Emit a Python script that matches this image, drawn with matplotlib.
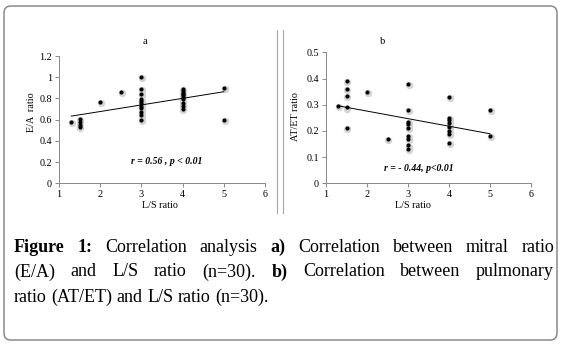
import numpy as np
import matplotlib
matplotlib.use("Agg")
import matplotlib.pyplot as plt
from matplotlib.patches import FancyBboxPatch
from matplotlib.lines import Line2D
from matplotlib.transforms import offset_copy, IdentityTransform

plt.rcParams['font.family'] = ['Liberation Serif', 'DejaVu Serif']

# panel a: L/S ratio vs E/A ratio
ls_a = [1.3, 1.5, 1.5, 1.5, 1.5, 2, 2.5,
        3, 3, 3, 3, 3, 3, 3, 3, 3, 3, 3,
        4, 4, 4, 4, 4, 4, 4, 4, 4, 4,
        5, 5]
ea = [0.58, 0.61, 0.58, 0.55, 0.53, 0.77, 0.86,
      1.0, 0.89, 0.84, 0.79, 0.78, 0.76, 0.73, 0.71, 0.67, 0.64, 0.60,
      0.89, 0.87, 0.85, 0.84, 0.83, 0.81, 0.79, 0.76, 0.73, 0.70,
      0.90, 0.60]

# panel b: L/S ratio vs AT/ET ratio
ls_b = [1.3, 1.5, 1.5, 1.5, 1.5, 1.5, 2, 2.5,
        3, 3, 3, 3, 3, 3, 3, 3, 3,
        4, 4, 4, 4, 4, 4, 4, 4,
        5, 5]
atet = [0.295, 0.39, 0.36, 0.335, 0.29, 0.21, 0.35, 0.17,
        0.38, 0.28, 0.235, 0.225, 0.21, 0.18, 0.17, 0.145, 0.13,
        0.33, 0.25, 0.24, 0.23, 0.215, 0.20, 0.19, 0.155,
        0.28, 0.18]

caption = [
    [("Figure", "bold"), ("1:", "bold"), ("Correlation", "normal"), ("analysis", "normal"),
     ("a)", "bold"), ("Correlation", "normal"), ("between", "normal"), ("mitral", "normal"),
     ("ratio", "normal")],
    [("(E/A)", "normal"), ("and", "normal"), ("L/S", "normal"), ("ratio", "normal"),
     ("(n=30).", "normal"), ("b)", "bold"), ("Correlation", "normal"), ("between", "normal"),
     ("pulmonary", "normal")],
    [("ratio", "normal"), ("(AT/ET)", "normal"), ("and", "normal"), ("L/S", "normal"),
     ("ratio", "normal"), ("(n=30).", "normal")],
]

W, H = 565, 345
fig = plt.figure(figsize=(W / 100, H / 100), dpi=100)


def px(x, y):
    # pixel (from top-left) -> figure fraction
    return x / W, 1 - y / H


def scatter_panel(rect, xs, ys, ymax, ystep):
    ax = fig.add_axes(rect)
    xs = np.array(xs)
    ys = np.array(ys)
    shadow = offset_copy(ax.transData, fig=fig, x=0.8, y=-1.2, units='dots')
    ax.scatter(xs, ys, s=28, color='#d4d4d4', lw=0, transform=shadow, zorder=2)
    ax.scatter(xs, ys, s=9, color='black', lw=0, zorder=3)
    k, b = np.polyfit(xs, ys, 1)
    xx = np.array([xs.min(), xs.max()])
    ax.plot(xx, k * xx + b, color='black', lw=0.7, zorder=4)
    ax.set_xlim(1, 6)
    ax.set_ylim(0, ymax)
    ax.set_xticks(range(1, 7))
    yt = np.arange(0, ymax + ystep / 2, ystep)
    ax.set_yticks(yt)
    ax.set_yticklabels(['%g' % round(v, 2) for v in yt])
    for s in ['top', 'right']:
        ax.spines[s].set_visible(False)
    for s in ['left', 'bottom']:
        ax.spines[s].set_color('#888888')
        ax.spines[s].set_linewidth(0.7)
    ax.tick_params(direction='out', length=3, width=0.7, color='#888888',
                   labelsize=7.3, pad=2)
    ax.patch.set_alpha(0)
    return ax


ax1 = scatter_panel([59 / W, 1 - 183.3 / H, 206 / W, 127.3 / H], ls_a, ea, 1.2, 0.2)
ax2 = scatter_panel([326 / W, 1 - 183.3 / H, 205 / W, 131 / H], ls_b, atet, 0.5, 0.1)

fig.text(*px(145, 42), "a", ha='center', va='center', fontsize=7.5)
fig.text(*px(383, 42), "b", ha='center', va='center', fontsize=7.5)
fig.text(*px(32, 112), "E/A  ratio", ha='center', va='center', rotation=90, fontsize=7.3)
fig.text(*px(295, 117), "AT/ET ratio", ha='center', va='center', rotation=90, fontsize=7.3)
fig.text(*px(160, 205), "L/S ratio", ha='center', va='center', fontsize=7.3)
fig.text(*px(413, 205), "L/S ratio", ha='center', va='center', fontsize=7.3)
fig.text(*px(167, 162), "r = 0.56 , p < 0.01", ha='center', va='center', fontsize=7,
         fontweight='bold', style='italic')
fig.text(*px(419, 168), "r = - 0.44, p<0.01", ha='center', va='center', fontsize=7,
         fontweight='bold', style='italic')

# frame and divider
fig.patches.append(FancyBboxPatch((4, H - 340), 553, 334,
                                  boxstyle="round,pad=0,rounding_size=7",
                                  transform=IdentityTransform(), fill=False,
                                  ec='#8a8a8a', lw=1.1, figure=fig))
for xv in (277, 283):
    fig.lines.append(Line2D([xv, xv], [H - 213, H - 30], transform=IdentityTransform(),
                            color='#a8a8a8', lw=0.8, figure=fig))

# justified caption
renderer = fig.canvas.get_renderer()
fs = 13
x_left, x_right = 14, 554
line_y = [247, 272, 297]
for i, line in enumerate(caption):
    texts = [fig.text(0, 0, w, fontsize=fs, fontweight=wt, va='center', ha='left')
             for w, wt in line]
    widths = [t.get_window_extent(renderer).width for t in texts]
    if i < len(caption) - 1:
        gap = (x_right - x_left - sum(widths)) / (len(texts) - 1)
    else:
        gap = 0.25 * fs * 100 / 72
    x = x_left
    for t, wd in zip(texts, widths):
        t.set_position(px(x, line_y[i]))
        x += wd + gap

fig.savefig("out.png", dpi=100)
